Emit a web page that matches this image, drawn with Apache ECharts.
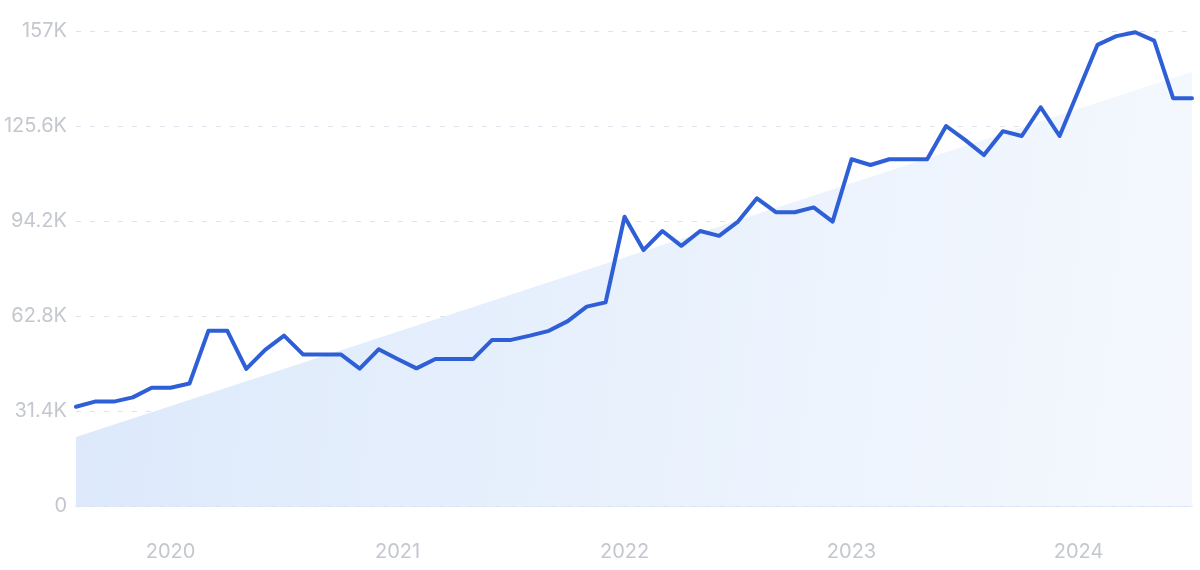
<!DOCTYPE html>
<html>
<head>
<meta charset="utf-8">
<script src="https://cdn.jsdelivr.net/npm/echarts@6/dist/echarts.min.js"></script>
<style>
html,body{margin:0;padding:0;background:#fff;}
#chart{width:1200px;height:570px;}
</style>
</head>
<body>
<div id="chart"></div>
<script>
// Monthly categories Aug 2019 – Jul 2024
const months = [
  '2019-08','2019-09','2019-10','2019-11','2019-12',
  '2020-01','2020-02','2020-03','2020-04','2020-05','2020-06','2020-07','2020-08','2020-09','2020-10','2020-11','2020-12',
  '2021-01','2021-02','2021-03','2021-04','2021-05','2021-06','2021-07','2021-08','2021-09','2021-10','2021-11','2021-12',
  '2022-01','2022-02','2022-03','2022-04','2022-05','2022-06','2022-07','2022-08','2022-09','2022-10','2022-11','2022-12',
  '2023-01','2023-02','2023-03','2023-04','2023-05','2023-06','2023-07','2023-08','2023-09','2023-10','2023-11','2023-12',
  '2024-01','2024-02','2024-03','2024-04','2024-05','2024-06','2024-07'
];
// Search volume (thousands)
const volume = [
  32.8, 34.5, 34.5, 35.9, 39.1,
  39.1, 40.5, 57.9, 57.9, 45.3, 51.6, 56.3, 50.1, 50.1, 50.1, 45.4, 51.8,
  48.6, 45.5, 48.6, 48.6, 48.6, 54.9, 54.9, 56.3, 57.9, 61.1, 65.9, 67.3,
  95.6, 84.6, 90.9, 86.0, 90.9, 89.3, 94.0, 101.7, 97.1, 97.1, 98.7, 94.0,
  114.6, 112.7, 114.6, 114.6, 114.6, 125.6, 121.0, 116.0, 123.9, 122.3, 131.8, 122.3,
  137.3, 152.4, 155.3, 156.6, 153.8, 134.8, 134.8
];
// Trend area: value at first and last month (thousands)
const trendIndex = [0, 59];
const trendValues = [22.8, 143.5];
// Y tick labels
const yTicks = [0, 31.4, 62.8, 94.2, 125.6, 157];
const yTickLabels = ['0', '31.4K', '62.8K', '94.2K', '125.6K', '157K'];

const chart = echarts.init(document.getElementById('chart'), null, {renderer: 'canvas'});
const option = {
  animation: false,
  grid: {left: 76, right: 8, top: 31, bottom: 64, containLabel: false},
  xAxis: {
    type: 'category',
    data: months,
    boundaryGap: false,
    axisLine: {show: true, lineStyle: {color: '#d6e3f6', width: 1.5}},
    axisTick: {show: false},
    splitLine: {show: false},
    axisLabel: {
      interval: (idx, val) => val.endsWith('-01'),
      formatter: (val) => val.slice(0, 4),
      color: '#c4c7cd',
      fontSize: 20,
      fontFamily: 'Inter, "Noto Sans", sans-serif',
      margin: 36
    }
  },
  yAxis: {
    type: 'value',
    min: 0,
    max: 157,
    interval: 31.4,
    axisLine: {show: false},
    axisTick: {show: false},
    splitLine: {show: true, lineStyle: {color: '#dde3ec', type: [5, 9], width: 1}},
    axisLabel: {
      color: '#c4c7cd',
      fontSize: 20,
      fontFamily: 'Inter, "Noto Sans", sans-serif',
      margin: 9,
      formatter: (v) => {
        const i = yTicks.findIndex(t => Math.abs(t - v) < 0.01);
        return i >= 0 ? yTickLabels[i] : '';
      }
    }
  },
  series: [
    {
      type: 'line',
      data: trendIndex.map((x, i) => [x, trendValues[i]]),
      symbol: 'none',
      lineStyle: {width: 0},
      areaStyle: {
        color: new echarts.graphic.LinearGradient(0, 0, 1, 0.3, [
          {offset: 0, color: '#dce9fb'},
          {offset: 1, color: '#f4f8fe'}
        ]),
        opacity: 1
      },
      silent: true,
      z: 1
    },
    {
      type: 'line',
      data: volume,
      symbol: 'none',
      lineStyle: {color: '#2e5fd6', width: 4, join: 'round', cap: 'round'},
      z: 3
    }
  ]
};
chart.setOption(option);
</script>
</body>
</html>
